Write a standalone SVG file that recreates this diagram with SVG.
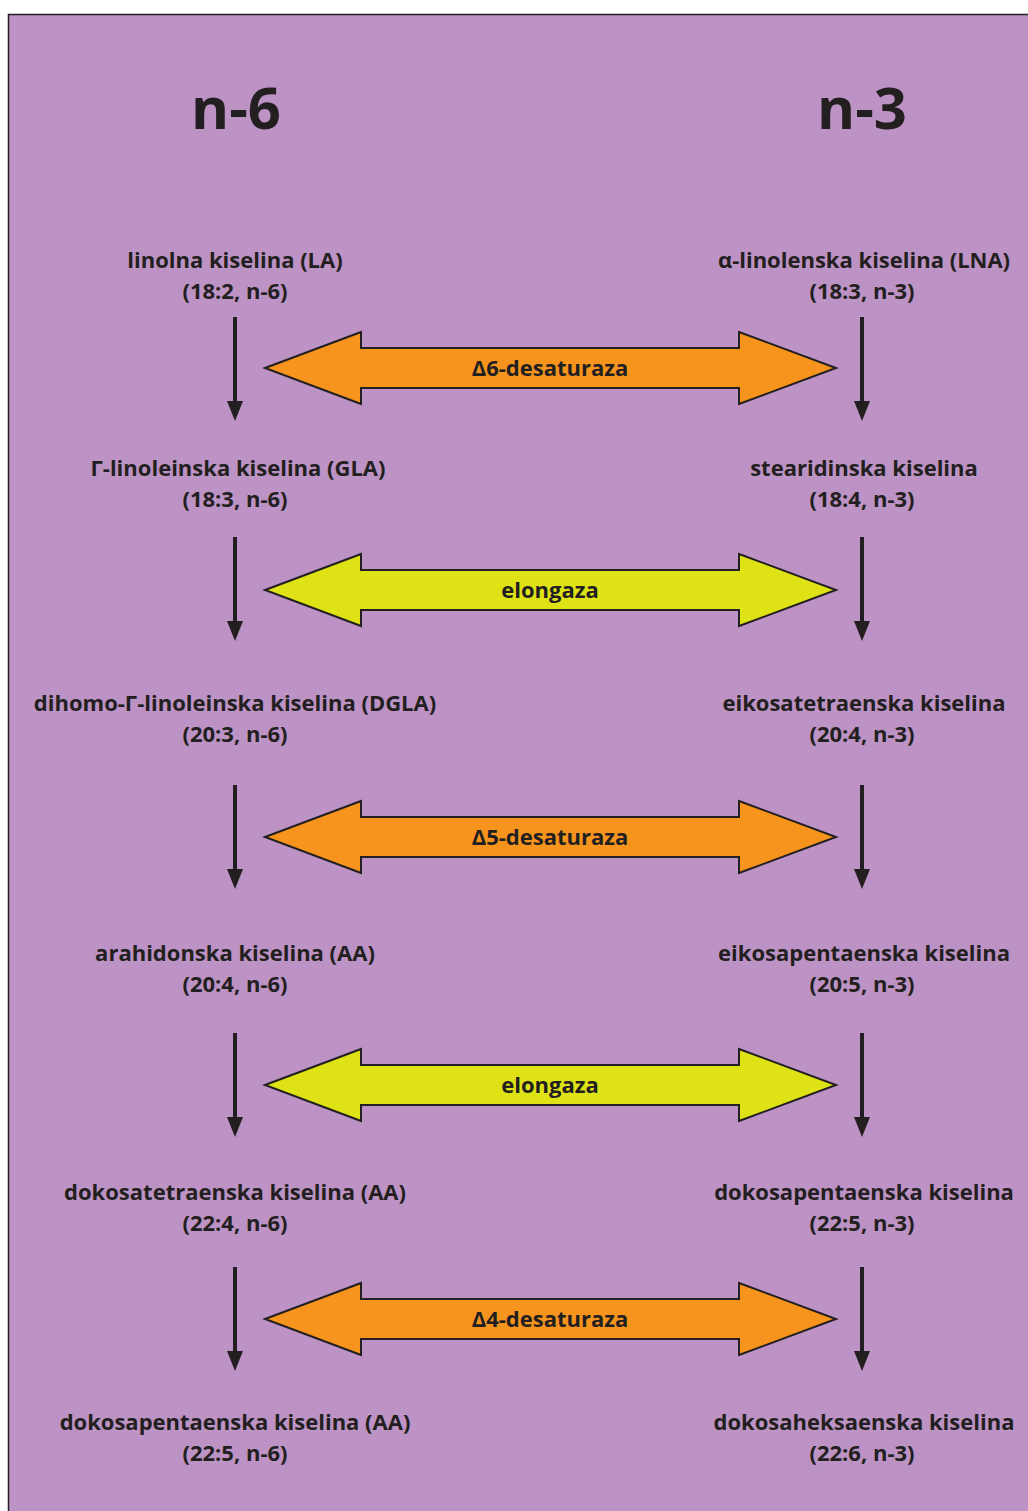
<svg xmlns="http://www.w3.org/2000/svg" width="1028" height="1511" viewBox="0 0 1028 1511">
<style>
.t{font-family:"Open Sans","Liberation Sans",sans-serif;font-weight:700;font-size:22px;fill:#231f20;text-anchor:middle}
.h{font-family:"Open Sans","Liberation Sans",sans-serif;font-weight:700;font-size:58px;fill:#231f20;text-anchor:middle}
.dn{stroke:#231f20;stroke-width:4;fill:none}
.da{stroke:#231f20;stroke-width:2;stroke-linejoin:miter}
.o{fill:#f7941d}
.y{fill:#dfe215}
</style>
<defs>
<path id="dbl" d="M-285 0 L-189 -36 L-189 -20 L189 -20 L189 -36 L286 0 L189 36 L189 20 L-189 20 L-189 36 Z"/>
<g id="down"><line x1="0" y1="0" x2="0" y2="86" class="dn"/><path d="M-8 84 L8 84 L0 104 Z" fill="#231f20"/></g>
</defs>
<rect x="8.5" y="14.5" width="1030" height="1510" fill="#bc93c4" stroke="#231f20" stroke-width="1.5"/>
<g id="headers">
<text class="h" x="236" y="129">n-6</text>
<text class="h" x="862" y="129">n-3</text>
</g>
<g id="connectors">
<use href="#down" x="235" y="317"/><use href="#down" x="862" y="317"/>
<use href="#down" x="235" y="537"/><use href="#down" x="862" y="537"/>
<use href="#down" x="235" y="785"/><use href="#down" x="862" y="785"/>
<use href="#down" x="235" y="1033"/><use href="#down" x="862" y="1033"/>
<use href="#down" x="235" y="1267"/><use href="#down" x="862" y="1267"/>
</g>
<g id="enzyme1"><use href="#dbl" x="550" y="368" class="o da"/><text class="t" x="550" y="376">Δ6-desaturaza</text></g>
<g id="enzyme2"><use href="#dbl" x="550" y="590" class="y da"/><text class="t" x="550" y="598">elongaza</text></g>
<g id="enzyme3"><use href="#dbl" x="550" y="837" class="o da"/><text class="t" x="550" y="845">Δ5-desaturaza</text></g>
<g id="enzyme4"><use href="#dbl" x="550" y="1085" class="y da"/><text class="t" x="550" y="1093">elongaza</text></g>
<g id="enzyme5"><use href="#dbl" x="550" y="1319" class="o da"/><text class="t" x="550" y="1327">Δ4-desaturaza</text></g>
<g id="LA"><text class="t" x="235" y="268">linolna kiselina (LA)</text><text class="t" x="235" y="299">(18:2, n-6)</text></g>
<g id="LNA"><text class="t" x="864" y="268">α-linolenska kiselina (LNA)</text><text class="t" x="862" y="299">(18:3, n-3)</text></g>
<g id="GLA"><text class="t" x="238" y="476">Γ-linoleinska kiselina (GLA)</text><text class="t" x="235" y="507">(18:3, n-6)</text></g>
<g id="SDA"><text class="t" x="864" y="476">stearidinska kiselina</text><text class="t" x="862" y="507">(18:4, n-3)</text></g>
<g id="DGLA"><text class="t" x="235" y="711">dihomo-Γ-linoleinska kiselina (DGLA)</text><text class="t" x="235" y="742">(20:3, n-6)</text></g>
<g id="ETA"><text class="t" x="864" y="711">eikosatetraenska kiselina</text><text class="t" x="862" y="742">(20:4, n-3)</text></g>
<g id="AA"><text class="t" x="235" y="961">arahidonska kiselina (AA)</text><text class="t" x="235" y="992">(20:4, n-6)</text></g>
<g id="EPA"><text class="t" x="864" y="961">eikosapentaenska kiselina</text><text class="t" x="862" y="992">(20:5, n-3)</text></g>
<g id="DTA"><text class="t" x="235" y="1200">dokosatetraenska kiselina (AA)</text><text class="t" x="235" y="1231">(22:4, n-6)</text></g>
<g id="DPA3"><text class="t" x="864" y="1200">dokosapentaenska kiselina</text><text class="t" x="862" y="1231">(22:5, n-3)</text></g>
<g id="DPA6"><text class="t" x="235" y="1430">dokosapentaenska kiselina (AA)</text><text class="t" x="235" y="1461">(22:5, n-6)</text></g>
<g id="DHA"><text class="t" x="864" y="1430">dokosaheksaenska kiselina</text><text class="t" x="862" y="1461">(22:6, n-3)</text></g>
</svg>
